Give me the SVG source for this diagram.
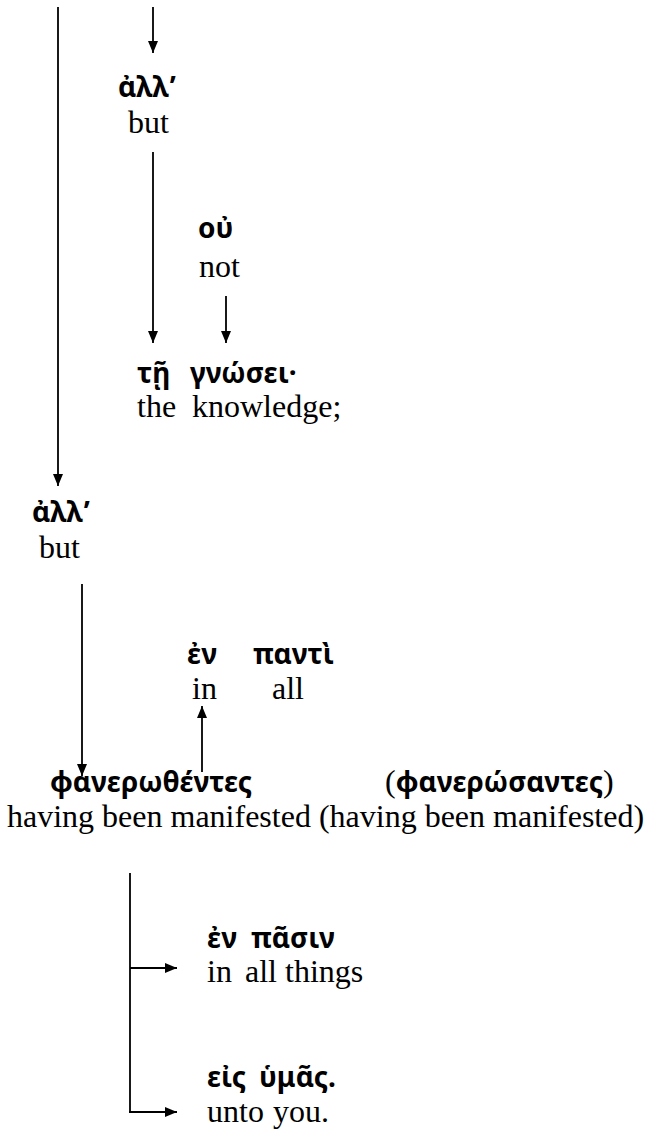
<svg xmlns="http://www.w3.org/2000/svg" width="652" height="1133" viewBox="0 0 652 1133">
<style>
.gk{font-family:"Noto Sans","DejaVu Sans",sans-serif;font-weight:bold;font-size:28px;fill:#000}
.en{font-family:"Liberation Serif","Times New Roman",serif;font-size:32px;fill:#000}
.par{font-family:"Liberation Serif","Times New Roman",serif;font-weight:normal;font-size:32px}
.ln{stroke:#000;stroke-width:1.8;fill:none}
.ar{marker-end:url(#ah)}
</style>
<defs>
<marker id="ah" viewBox="0 0 12 10" refX="12" refY="5" markerWidth="12" markerHeight="10" orient="auto" markerUnits="userSpaceOnUse">
<path d="M0,0 L12,5 L0,10 z" fill="#000"/>
</marker>
</defs>
<rect width="652" height="1133" fill="#fff"/>
<g id="connectors">
<line class="ln ar" x1="58" y1="7" x2="58" y2="486"/>
<line class="ln ar" x1="153" y1="7" x2="153" y2="53"/>
<line class="ln ar" x1="153" y1="152" x2="153" y2="343"/>
<line class="ln ar" x1="226" y1="296" x2="226" y2="343"/>
<line class="ln ar" x1="82" y1="584" x2="82" y2="776"/>
<line class="ln ar" x1="202" y1="772" x2="202" y2="706"/>
<line class="ln" x1="130" y1="873" x2="130" y2="1112"/>
<line class="ln ar" x1="130" y1="968" x2="177" y2="968"/>
<line class="ln ar" x1="129" y1="1112" x2="177" y2="1112"/>
</g>
<g id="node-alla1">
<text class="gk" x="118" y="97">ἀλλ’</text>
<text class="en" x="128" y="133">but</text>
</g>
<g id="node-ou">
<text class="gk" x="198" y="238">οὐ</text>
<text class="en" x="199" y="277">not</text>
</g>
<g id="node-te">
<text class="gk" x="137" y="383">τῇ</text>
<text class="en" x="137" y="417">the</text>
</g>
<g id="node-gnosei">
<text class="gk" x="190" y="383">γνώσει·</text>
<text class="en" x="192" y="417">knowledge;</text>
</g>
<g id="node-alla2">
<text class="gk" x="32" y="522">ἀλλ’</text>
<text class="en" x="39" y="558">but</text>
</g>
<g id="node-en-panti">
<text class="gk" x="187" y="664">ἐν</text>
<text class="gk" x="253" y="664">παντὶ</text>
<text class="en" x="192" y="699">in</text>
<text class="en" x="272" y="699">all</text>
</g>
<g id="node-phanerothentes">
<text class="gk" x="50" y="792">φανερωθέντες</text>
<text class="gk" x="385" y="792"><tspan class="par">(</tspan>φανερώσαντες<tspan class="par">)</tspan></text>
<text class="en" x="7" y="827">having been manifested (having been manifested)</text>
</g>
<g id="node-en-pasin">
<text class="gk" x="207" y="948">ἐν</text>
<text class="gk" x="251" y="948">πᾶσιν</text>
<text class="en" x="207" y="982">in</text>
<text class="en" x="245" y="982">all things</text>
</g>
<g id="node-eis-humas">
<text class="gk" x="207" y="1087">εἰς</text>
<text class="gk" x="259" y="1087">ὑμᾶς.</text>
<text class="en" x="207" y="1122">unto</text>
<text class="en" x="273" y="1122">you.</text>
</g>
</svg>
